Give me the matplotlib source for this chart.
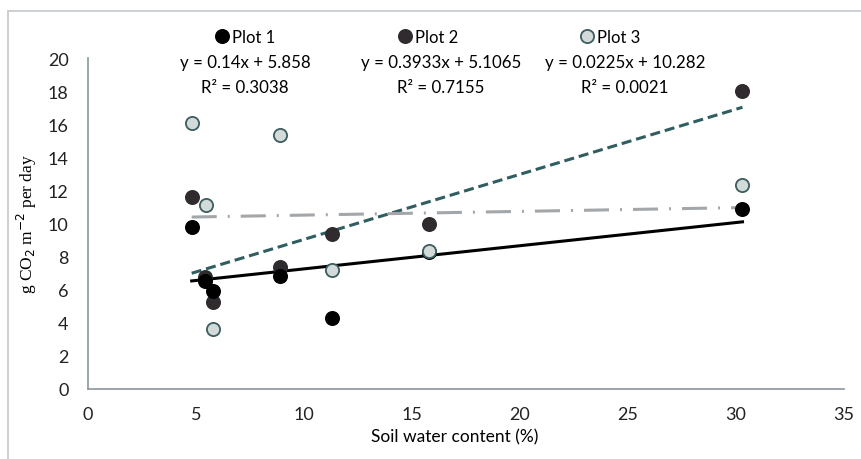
import numpy as np
import matplotlib
matplotlib.use("Agg")
import matplotlib.pyplot as plt
from matplotlib.lines import Line2D
from matplotlib.patches import Rectangle

# data
swc = [4.8, 5.4, 5.8, 8.9, 11.3, 15.8, 30.3]
plot1 = [9.8, 6.5, 5.9, 6.85, 4.3, 8.3, 10.85]
plot2 = [11.6, 6.75, 5.25, 7.35, 9.35, 10.0, 18.0]
swc3 = [4.8, 5.45, 5.8, 8.9, 11.3, 15.8, 30.3]
plot3 = [16.05, 11.1, 3.6, 15.35, 7.2, 8.35, 12.3]

names = ["Plot 1", "Plot 2", "Plot 3"]
slopes = [0.14, 0.3933, 0.0225]
intercepts = [5.858, 5.1065, 10.282]
r2 = ["0.3038", "0.7155", "0.0021"]
eq_text = ["y = 0.14x + 5.858", "y = 0.3933x + 5.1065", "y = 0.0225x + 10.282"]

sans = ["Lato", "DejaVu Sans"]
plt.rcParams['font.family'] = sans

W, H = 861, 460
fig = plt.figure(figsize=(W / 100, H / 100), dpi=100)
ax = fig.add_axes([88 / W, 1 - 390 / H, (844 - 88) / W, (390 - 59) / H])

# outer chart frame
fig.patches.append(Rectangle((8 / W, -0.1), 1.2, 1 - 12 / H + 0.1, transform=fig.transFigure,
                             fill=False, edgecolor="#c3c8cc", linewidth=1.2))

mk_face = ["black", "#2f2b2f", "#d3dada"]
mk_edge = ["black", "#2f2b2f", "#3c5c5e"]
ln_color = ["black", "#2f5d60", "#a3a7aa"]
ln_style = ["-", (0, (3.3, 1.6)), (0, (8.2, 3.6, 0.65, 3.6))]
xs_all = [swc, swc, swc3]
ys_all = [plot1, plot2, plot3]

for i in range(3):
    xs = np.array(xs_all[i])
    xl = np.array([xs.min(), xs.max()])
    ax.plot(xl, slopes[i] * xl + intercepts[i], color=ln_color[i], lw=2.2,
            linestyle=ln_style[i], zorder=2)

order = [1, 0, 2]
for i in order:
    ax.plot(xs_all[i], ys_all[i], "o", ms=9.5, mfc=mk_face[i], mec=mk_edge[i],
            mew=1.3, zorder=3)

ax.set_xlim(0, 35)
ax.set_ylim(0, 20)
ax.set_xticks(np.arange(0, 36, 5))
ax.set_yticks(np.arange(0, 21, 2))
ax.tick_params(length=0, labelsize=13, colors="#222222")
ax.tick_params(axis="y", pad=14)
ax.tick_params(axis="x", pad=12)
for s in ["top", "right"]:
    ax.spines[s].set_visible(False)
for s in ["left", "bottom"]:
    ax.spines[s].set_color("#8a969c")
    ax.spines[s].set_linewidth(1.2)

ax.set_xlabel("Soil water content (%)", fontsize=12.5, labelpad=7)
ax.xaxis.set_label_coords((455 - 88) / (844 - 88), -0.12)
ax.set_ylabel("g CO$_2$ m$^{-2}$ per day", fontsize=12.5, family="Liberation Serif",
              labelpad=6)

handles = [Line2D([], [], ls="", marker="o", ms=9.5, mfc=mk_face[i], mec=mk_edge[i], mew=1.3)
           for i in range(3)]
fig.legend(handles, names, loc="center", bbox_to_anchor=(429 / W, 1 - 38 / H), ncol=3,
           frameon=False, fontsize=12, handlelength=0.6, handletextpad=0.3,
           columnspacing=7.45)

eq_x = [245, 441, 625]
for i in range(3):
    fig.text(eq_x[i] / W, 1 - 63 / H, eq_text[i], ha="center", va="center", fontsize=12.2)
    fig.text(eq_x[i] / W, 1 - 88 / H, "R² = " + r2[i], ha="center", va="center", fontsize=12.2)

fig.savefig("out.png", dpi=100)
